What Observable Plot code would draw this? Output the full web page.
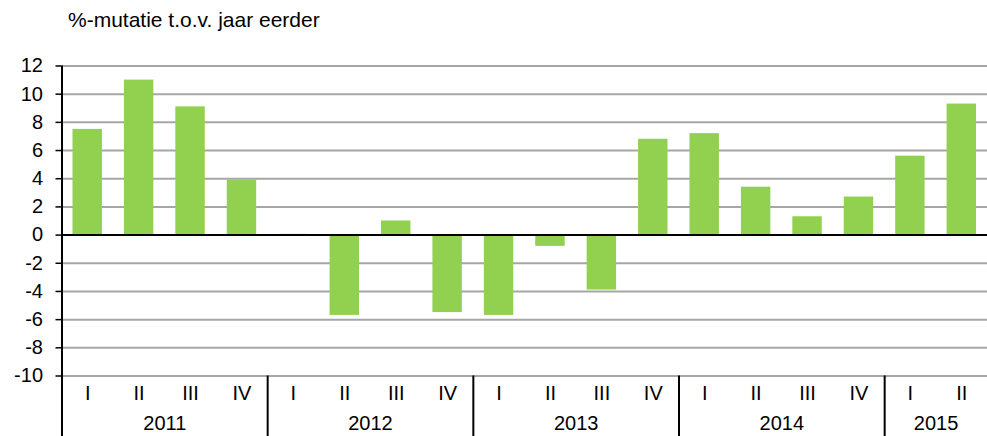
<!DOCTYPE html>
<html><head><meta charset="utf-8">
<script src="https://cdn.jsdelivr.net/npm/d3@7"></script>
<script src="https://cdn.jsdelivr.net/npm/@observablehq/plot@0.6"></script>
<style>body{margin:0;background:#fff;} svg{display:block;}</style>
</head><body><div id="chart"></div>
<script>
const title = "%-mutatie t.o.v. jaar eerder";
const years = ["2011","2012","2013","2014","2015"];
const quarters = ["I","II","III","IV"];
const quarterCounts = [4,4,4,4,2];
const values = [7.5,11.0,9.1,3.9, 0.05,-5.7,1.0,-5.5, -5.7,-0.8,-3.9,6.8, 7.2,3.4,1.3,2.7, 5.6,9.3];
const yTicks = [-10,-8,-6,-4,-2,0,2,4,6,8,10,12];

const data = [];
years.forEach((yr,i)=>{for(let q=0;q<quarterCounts[i];q++){data.push({year:yr,q:quarters[q],key:yr+"-"+quarters[q],value:values[data.length]});}});
const keys = data.map(d=>d.key);
const W = 987, H = 436, mL = 61.5, mR = 0, mT = 65.5, mB = 60.5;
const step = (W-mL-mR)/keys.length;
const pxPerUnit = (H-mT-mB)/(12-(-10));
const yBottom = -10 - mB/pxPerUnit;
const yearFirst = years.map(yr=>data.find(d=>d.year===yr).key);
const yearMid = years.map((yr,i)=>({year:yr,key:data.filter(d=>d.year===yr)[quarterCounts[i]/2].key}));
const font = "Liberation Sans, Arial, sans-serif";

const chart = Plot.plot({
  width: W, height: H,
  marginLeft: mL, marginRight: mR, marginTop: mT, marginBottom: mB,
  style: {fontFamily: font, fontSize: "20px", color: "#000", background: "#fff"},
  x: {type: "band", domain: keys, padding: 0, round: false, axis: null},
  y: {domain: [-10, 12], axis: null},
  marks: [
    Plot.gridY(yTicks.filter(t=>t!==0), {stroke: "#a6a6a6", strokeOpacity: 1, strokeWidth: 2}),
    Plot.barY(data, {x: "key", y: "value", fill: "#92d050", insetLeft: 11, insetRight: 11}),
    Plot.ruleY([0], {stroke: "#000", strokeWidth: 2}),
    Plot.axisY(yTicks, {label: null, tickSize: 6, tickPadding: 13, fontSize: 20, stroke: "#000", strokeWidth: 1.5, tickFormat: d => String(d)}),
    Plot.ruleX([keys[0]], {dx: -step/2, y1: 12, y2: yBottom, stroke: "#000", strokeWidth: 2}),
    Plot.ruleX(yearFirst.slice(1), {dx: -step/2, y1: -10, y2: yBottom, stroke: "#000", strokeWidth: 2}),
    Plot.text(data, {x: "key", y: -10, text: "q", dy: 17.5, fontSize: 20, lineAnchor: "middle"}),
    Plot.text(yearMid, {x: "key", y: -10, text: "year", dx: -step/2, dy: 47.5, fontSize: 20, lineAnchor: "middle"}),
    Plot.text([title], {frameAnchor: "top-left", dx: 6, dy: -53.7, fontSize: 21, lineAnchor: "top"})
  ]
});
document.getElementById("chart").append(chart);
</script></body></html>
